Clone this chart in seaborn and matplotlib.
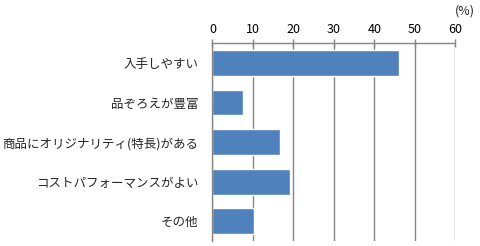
import matplotlib
matplotlib.use("Agg")
import matplotlib.pyplot as plt
import seaborn as sns
import pandas as pd
import numpy as np

categories = ["入手しやすい", "品ぞろえが豊富", "商品にオリジナリティ(特長)がある", "コストパフォーマンスがよい", "その他"]
values = [46.1, 7.5, 16.7, 19.2, 10.3]
xticks = [0, 10, 20, 30, 40, 50, 60]

sns.set_theme(style="white")
plt.rcParams['font.family'] = ['Noto Sans CJK JP', 'DejaVu Sans']

df = pd.DataFrame({"cat": categories, "val": values})

fig = plt.figure(figsize=(4.8, 2.46), dpi=100)
ax = fig.add_axes([0.4425, 0.02, 0.506, 0.805])
sns.barplot(data=df, y="cat", x="val", orient="h", color="#4F81BD", saturation=1,
            width=0.65, ax=ax)

gray = "#868686"
ax.set_xlim(0, 60)
ax.set_ylim(len(categories) - 0.5, -0.5)
ax.set_xticks(xticks)
ax.set_xticklabels([str(t) for t in xticks], fontsize=9)
ax.xaxis.tick_top()
ax.xaxis.set_label_position("top")
ax.set_xlabel("")
ax.set_ylabel("")
ax.grid(axis="x", color=gray, linewidth=1)
ax.set_axisbelow(True)
for s in ["right", "bottom"]:
    ax.spines[s].set_visible(False)
for s in ["top", "left"]:
    ax.spines[s].set_color(gray)
    ax.spines[s].set_linewidth(1)

ax.tick_params(axis="x", which="major", direction="inout", length=6, color=gray, width=1, pad=2, labelsize=9, colors="black")
ax.tick_params(axis="x", colors="black")
ax.tick_params(axis="x", color=gray)
ax.set_yticks(range(len(categories)))
ax.set_yticklabels(categories, fontsize=9)
ax.tick_params(axis="y", which="major", length=0, pad=10)
ax.set_yticks(np.arange(0.5, len(categories) - 0.5, 1), minor=True)
ax.tick_params(axis="y", which="minor", direction="out", length=4, color=gray, width=1)

fig.text(0.948, 0.955, "(%)", fontsize=9, ha="left", va="center")

fig.savefig("out.png", dpi=100)
